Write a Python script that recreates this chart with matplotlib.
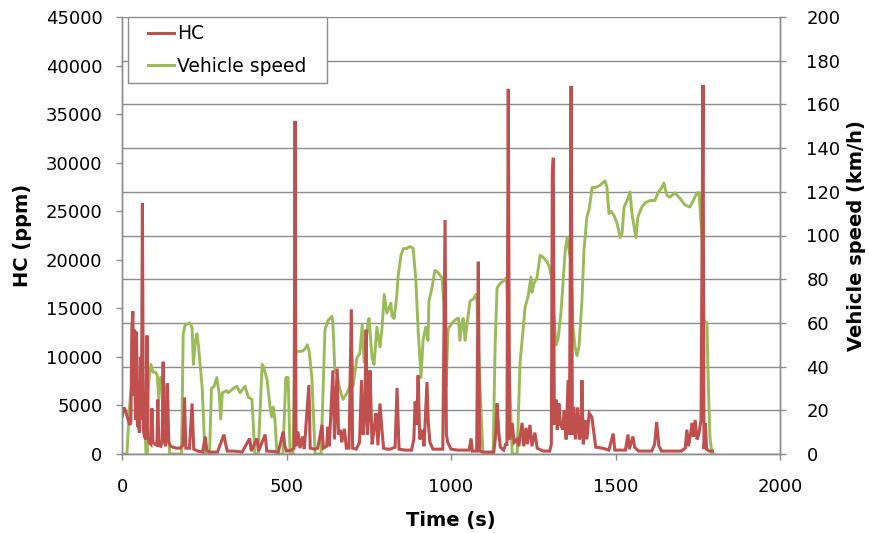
import matplotlib
matplotlib.use("Agg")
import matplotlib.pyplot as plt
from matplotlib.lines import Line2D
from matplotlib.legend_handler import HandlerLine2D

# ---------------- data ----------------
hc_time = [0, 6, 12, 18, 24, 27, 30, 33, 36, 38, 41, 44, 47, 50, 53, 56, 59, 62, 65, 68,
           72, 76, 79, 83, 88, 91, 94, 100, 106, 109, 112, 118, 122, 125, 128, 132, 138, 142, 148, 155,
           165, 176, 185, 190, 194, 205, 213, 218, 230, 245, 253, 258, 270, 290, 310, 314, 320, 340, 365, 388,
           393, 410, 415, 435, 440, 460, 475, 490, 495, 500, 515, 523, 526, 529, 535, 541, 549, 554, 568, 572,
           585, 595, 608, 612, 622, 626, 630, 641, 646, 650, 654, 658, 664, 668, 676, 682, 690, 697, 701, 712,
           722, 728, 733, 738, 742, 746, 750, 754, 760, 766, 772, 778, 784, 790, 795, 805, 815, 830, 836, 842,
           860, 880, 887, 891, 896, 900, 905, 912, 918, 927, 931, 936, 945, 960, 975, 982, 986, 990, 1000, 1020,
           1040, 1055, 1061, 1065, 1078, 1083, 1087, 1100, 1130, 1136, 1140, 1145, 1150, 1160, 1166, 1170, 1174, 1178, 1186, 1192,
           1200, 1206, 1216, 1221, 1228, 1232, 1240, 1246, 1255, 1262, 1280, 1300, 1305, 1308, 1311, 1314, 1319, 1323, 1328, 1333,
           1340, 1344, 1350, 1356, 1360, 1365, 1369, 1373, 1378, 1385, 1390, 1395, 1398, 1402, 1408, 1413, 1420, 1428, 1435, 1440,
           1460, 1480, 1493, 1498, 1530, 1538, 1542, 1553, 1558, 1570, 1610, 1619, 1625, 1632, 1640, 1700, 1712, 1717, 1722, 1728,
           1733, 1737, 1742, 1748, 1753, 1760, 1766, 1769, 1773, 1777, 1785, 1795]
hc_ppm = [3800, 4800, 4300, 3600, 3000, 3300, 13000, 14700, 6000, 12800, 3500, 12600, 2800, 3000, 2200, 10000, 3500, 25800, 2500, 1800,
          1500, 12200, 1700, 1200, 1000, 4700, 1200, 1000, 900, 5600, 900, 800, 1500, 9500, 1500, 800, 7300, 1200, 800, 700,
          600, 600, 900, 5800, 600, 600, 5200, 500, 300, 200, 1800, 300, 200, 200, 2000, 1200, 300, 300, 200, 1600,
          300, 1600, 300, 2000, 300, 250, 200, 2300, 800, 300, 400, 600, 34300, 800, 2300, 600, 1800, 500, 7100, 600,
          500, 600, 3000, 600, 800, 2800, 800, 8600, 1500, 5200, 8800, 2000, 2500, 1200, 2600, 600, 600, 14900, 600, 500,
          1200, 7600, 2000, 4000, 12800, 2000, 4000, 8600, 1000, 2500, 4200, 900, 5200, 2500, 600, 500, 500, 700, 6800, 500,
          400, 400, 1500, 5400, 3000, 8100, 1500, 2500, 800, 7400, 3200, 1200, 500, 500, 500, 24100, 2000, 1200, 500, 400,
          400, 400, 1600, 300, 300, 19800, 300, 200, 200, 2000, 5200, 2300, 700, 400, 1000, 1000, 37600, 1500, 3200, 1200,
          1500, 800, 3200, 800, 2700, 1000, 3000, 800, 2200, 600, 300, 300, 1000, 29000, 30500, 3000, 5600, 2500, 5200, 3000,
          2500, 4500, 1500, 7600, 2000, 37900, 2000, 4800, 1500, 4800, 1500, 2000, 7600, 1000, 3500, 1500, 4200, 3800, 2000, 700,
          600, 400, 2100, 400, 400, 2000, 500, 1800, 700, 300, 300, 1000, 3300, 800, 300, 300, 600, 2500, 800, 2000,
          3200, 1800, 3500, 1500, 2000, 3500, 38000, 500, 3200, 500, 300, 300]

speed_time = [0, 15, 22, 27, 35, 43, 52, 60, 65, 70, 73, 77, 80, 84, 88, 94, 102, 107, 112, 117,
              124, 130, 137, 145, 181, 186, 192, 206, 213, 217, 223, 228, 232, 238, 244, 252, 266, 272, 280, 288,
              295, 300, 305, 318, 323, 338, 349, 359, 374, 384, 395, 404, 414, 426, 430, 441, 450, 455, 459, 465,
              471, 489, 498, 505, 511, 520, 526, 547, 556, 563, 569, 577, 587, 605, 617, 626, 638, 641, 647, 653,
              663, 672, 684, 693, 699, 702, 714, 723, 730, 736, 748, 751, 760, 766, 775, 784, 790, 797, 805, 812,
              817, 821, 827, 835, 839, 848, 855, 865, 875, 885, 893, 900, 909, 915, 923, 930, 933, 942, 951, 961,
              973, 979, 985, 991, 1003, 1018, 1023, 1027, 1033, 1037, 1043, 1050, 1058, 1068, 1076, 1079, 1085, 1097, 1128, 1134,
              1140, 1149, 1158, 1167, 1170, 1173, 1180, 1186, 1201, 1210, 1218, 1225, 1234, 1243, 1246, 1252, 1261, 1271, 1280, 1292,
              1298, 1307, 1313, 1319, 1325, 1334, 1340, 1347, 1353, 1359, 1365, 1371, 1377, 1383, 1389, 1398, 1404, 1413, 1420, 1429,
              1440, 1453, 1468, 1474, 1480, 1487, 1496, 1505, 1514, 1520, 1526, 1538, 1544, 1550, 1562, 1568, 1580, 1590, 1605, 1620,
              1629, 1641, 1647, 1656, 1665, 1681, 1696, 1711, 1726, 1736, 1748, 1754, 1763, 1766, 1769, 1778, 1781, 1787, 1793, 1800]
speed_kmh = [0, 0, 20, 29, 30, 29, 31, 30, 28, 12, 0, 0, 30, 37, 41, 37.5, 37.5, 36, 25, 35,
             33, 31, 20, 0, 0, 55, 59, 60, 58, 41, 52, 55, 50, 40, 30, 0, 0, 30, 31, 35,
             28, 16, 28, 29, 28, 30, 31, 28, 31, 26, 25, 0, 0, 41, 40, 34, 21.5, 17, 21.5, 15.5,
             0, 0, 35, 35, 0, 0, 47, 47, 48, 50, 47, 35, 0, 0, 57, 61, 63, 60, 38, 37,
             29, 25, 28, 31, 45, 31, 44, 46, 59, 42, 61, 62, 44, 41, 58, 49, 57, 73, 64.5, 67,
             69, 63, 62, 72, 81, 91, 94, 94, 95, 94, 80, 57, 35, 52, 58, 52, 70, 76, 84, 83,
             80.5, 67, 31, 57, 60, 62, 62, 52, 60, 62, 52, 61, 70, 71, 73, 70, 42, 0, 0, 49,
             76, 78, 79, 80.5, 78, 60, 26, 0, 0, 42, 55, 67, 72, 81, 74, 78, 80.5, 91, 90, 88,
             86, 80, 63, 50, 52, 64.5, 77, 93, 99, 93, 88, 58, 49, 45, 49, 70, 93, 108.5, 112, 122,
             122, 123, 125, 122, 110, 111, 109, 105.5, 99, 101, 113, 117, 120, 110, 99, 108.5, 113, 115, 116, 116,
             119.5, 122, 124, 118.5, 117.5, 119.5, 117, 114, 113, 116, 119.5, 119.5, 99, 80, 61, 60, 38, 8, 0, 0]

hc_ticks = list(range(0, 45001, 5000))
speed_ticks = list(range(0, 201, 20))
time_ticks = list(range(0, 2001, 500))

RED = "#C0504D"
GREEN = "#9BBB59"
GRID = "#8C8C8C"

plt.rcParams["font.family"] = ["DejaVu Sans"]
plt.rcParams["axes.grid"] = False

fig = plt.figure(figsize=(8.69, 5.33), dpi=100)
ax = fig.add_axes([122 / 869, 79 / 533, 658 / 869, 437 / 533])
ax2 = ax.twinx()

ax.set_xlim(0, 2000)
ax.set_ylim(0, 45000)
ax2.set_ylim(0, 200)
ax.set_xticks(time_ticks)
ax.set_yticks(hc_ticks)
ax2.set_yticks(speed_ticks)

# horizontal gridlines at the speed (right) axis ticks
ax.grid(False)
ax2.grid(False)
for v in speed_ticks:
    ax2.axhline(v, color=GRID, lw=1.0, zorder=0)

# speed on secondary axis (below), HC on top
ax2.plot(speed_time, speed_kmh, color=GREEN, lw=2.1, solid_joinstyle="round", zorder=2)
ax.plot(hc_time, hc_ppm, color=RED, lw=2.2, solid_joinstyle="miter", zorder=2)

ax.set_zorder(ax2.get_zorder() + 1)
ax.patch.set_visible(False)

for a in (ax, ax2):
    for s in a.spines.values():
        s.set_color(GRID)
        s.set_linewidth(1.0)
    a.spines["top"].set_visible(False)

ax.tick_params(axis="y", color=GRID, labelcolor="black", labelsize=13, length=4, width=1.0, pad=10)
ax.tick_params(axis="x", color=GRID, labelcolor="black", labelsize=13, length=4, width=1.0, pad=13)
ax2.tick_params(axis="y", color=GRID, labelcolor="black", labelsize=13, length=4, width=1.0, pad=15)

ax.set_xlabel("Time (s)", fontsize=14, fontweight="bold", labelpad=11)
ax.set_ylabel("HC (ppm)", fontsize=14, fontweight="bold", labelpad=10)
ax2.set_ylabel("Vehicle speed (km/h)", fontsize=14, fontweight="bold", labelpad=5)

handles = [Line2D([], [], color=RED, lw=2.2), Line2D([], [], color=GREEN, lw=2.2)]
leg = ax.legend(handles, ["HC", "Vehicle speed"], loc="upper left",
                bbox_to_anchor=(6 / 658, 0.0, 199 / 658, 1.0), mode="expand",
                fontsize=13.5, frameon=True, fancybox=False,
                edgecolor=GRID, framealpha=1.0, handlelength=2.08, handletextpad=0.16,
                borderpad=0.38, labelspacing=0.72, borderaxespad=0.0,
                handler_map={Line2D: HandlerLine2D(xpad=0.69)})
leg.get_frame().set_linewidth(1.0)

fig.savefig("out.png", dpi=100)
